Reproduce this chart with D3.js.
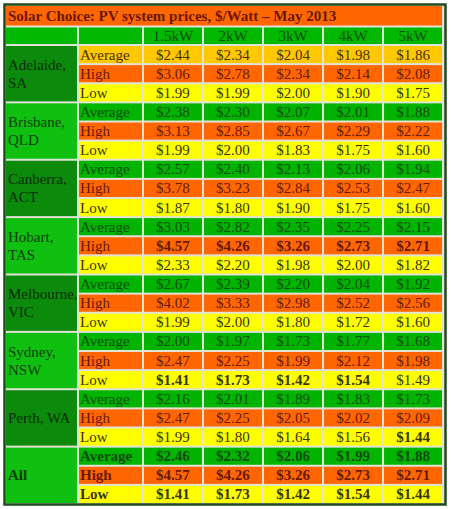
<!DOCTYPE html>
<html>
<head>
<meta charset="utf-8">
<script src="https://cdn.jsdelivr.net/npm/d3@7"></script>
<style>
  body { margin: 0; background: #fff; }
  svg text { font-family: "Liberation Serif", "Times New Roman", serif; }
</style>
</head>
<body>
<div id="chart"></div>
<script>
const width = 451;
const height = 509;

// Table data, $/Watt, May 2013
const title = "Solar Choice: PV system prices, $/Watt \u2013 May 2013";
const cities = ["Adelaide,|SA", "Brisbane,|QLD", "Canberra,|ACT", "Hobart,|TAS",
  "Melbourne,|VIC", "Sydney,|NSW", "Perth, WA", "All"];
const sizes = ["1.5kW", "2kW", "3kW", "4kW", "5kW"];
const stats = ["Average", "High", "Low"];
const average = [
  [2.44, 2.34, 2.04, 1.98, 1.86],
  [2.38, 2.30, 2.07, 2.01, 1.88],
  [2.57, 2.40, 2.13, 2.06, 1.94],
  [3.03, 2.82, 2.35, 2.25, 2.15],
  [2.67, 2.39, 2.20, 2.04, 1.92],
  [2.00, 1.97, 1.73, 1.77, 1.68],
  [2.16, 2.01, 1.89, 1.83, 1.73],
  [2.46, 2.32, 2.06, 1.99, 1.88]
];
const high = [
  [3.06, 2.78, 2.34, 2.14, 2.08],
  [3.13, 2.85, 2.67, 2.29, 2.22],
  [3.78, 3.23, 2.84, 2.53, 2.47],
  [4.57, 4.26, 3.26, 2.73, 2.71],
  [4.02, 3.33, 2.98, 2.52, 2.56],
  [2.47, 2.25, 1.99, 2.12, 1.98],
  [2.47, 2.25, 2.05, 2.02, 2.09],
  [4.57, 4.26, 3.26, 2.73, 2.71]
];
const low = [
  [1.99, 1.99, 2.00, 1.90, 1.75],
  [1.99, 2.00, 1.83, 1.75, 1.60],
  [1.87, 1.80, 1.90, 1.75, 1.60],
  [2.33, 2.20, 1.98, 2.00, 1.82],
  [1.99, 2.00, 1.80, 1.72, 1.60],
  [1.41, 1.73, 1.42, 1.54, 1.49],
  [1.99, 1.80, 1.64, 1.56, 1.44],
  [1.41, 1.73, 1.42, 1.54, 1.44]
];
const series = { Average: average, High: high, Low: low };

// colours
const fills = {
  title: "#ff6600", header: "#00b800",
  Average: "#00b400", AverageFirst: "#ffc800", High: "#ff6600", Low: "#ffff00",
  cityDark: "#0b8a0b", cityLight: "#10c010"
};
const inks = {
  "#ff6600": "#6b1800", "#00b400": "#0b4d0b", "#00b800": "#0b4d0b", "#ffc800": "#4a3300",
  "#ffff00": "#3a3500", "#0b8a0b": "#062e06", "#10c010": "#063e06"
};

const svg = d3.select("#chart").append("svg")
  .attr("width", width)
  .attr("height", height);

// frame
svg.append("rect")
  .attr("x", 4.5).attr("y", 4.5)
  .attr("width", 441).attr("height", 500)
  .attr("fill", "#e2e2d6")
  .attr("stroke", "#1f4a1f")
  .attr("stroke-width", 2.5);

const cityX = 6, cityW = 71;
const labelX = 79, labelW = 63;

const x = d3.scaleBand()
  .domain(sizes)
  .range([144, 442])
  .paddingInner(0.034);

const rowKeys = [];
cities.forEach(c => stats.forEach(s => rowKeys.push(c + "#" + s)));
const y = d3.scaleBand()
  .domain(rowKeys)
  .range([46, 503])
  .paddingInner(0.105);

function cellText(g, tx, ty, txt, fill, anchor, bold) {
  g.append("text")
    .attr("x", tx).attr("y", ty)
    .attr("text-anchor", anchor)
    .attr("font-size", "15px")
    .attr("font-weight", bold ? "bold" : "normal")
    .attr("fill", inks[fill] || "#222")
    .text(txt);
}

// title row
svg.append("rect").attr("x", 6).attr("y", 6).attr("width", 436).attr("height", 19.5).attr("fill", fills.title);
cellText(svg, 8, 21, title, fills.title, "start", true);

// header row
const headerY = 27.5, headerH = 16.5;
svg.append("rect").attr("x", cityX).attr("y", headerY).attr("width", cityW).attr("height", headerH).attr("fill", fills.header);
svg.append("rect").attr("x", labelX).attr("y", headerY).attr("width", labelW).attr("height", headerH).attr("fill", fills.header);
sizes.forEach(s => {
  svg.append("rect").attr("x", x(s)).attr("y", headerY).attr("width", x.bandwidth()).attr("height", headerH).attr("fill", fills.header);
  cellText(svg, x(s) + x.bandwidth() / 2, headerY + headerH / 2 + 5, s, fills.header, "middle", false);
});

// extremes across the cities (All row excluded) get bold type
const nCity = cities.length - 1;
const maxHigh = sizes.map((s, j) => d3.max(high.slice(0, nCity), r => r[j]));
const minLow = sizes.map((s, j) => d3.min(low.slice(0, nCity), r => r[j]));

cities.forEach((c, ci) => {
  const isAll = ci === cities.length - 1;
  const top = y(c + "#Average");
  const bottom = y(c + "#Low") + y.bandwidth();
  const cFill = ci % 2 === 0 ? fills.cityDark : fills.cityLight;
  svg.append("rect").attr("x", cityX).attr("y", top).attr("width", cityW).attr("height", bottom - top).attr("fill", cFill);
  const lines = c.split("|");
  const mid = (top + bottom) / 2;
  lines.forEach((ln, li) => {
    const off = (li - (lines.length - 1) / 2) * 18;
    cellText(svg, 8, mid + off + 5, ln, cFill, "start", isAll);
  });

  stats.forEach(s => {
    const key = c + "#" + s;
    const fill = (s === "Average" && ci === 0) ? fills.AverageFirst : fills[s];
    const ry = y(key), rh = y.bandwidth();
    svg.append("rect").attr("x", labelX).attr("y", ry).attr("width", labelW).attr("height", rh).attr("fill", fill);
    cellText(svg, labelX + 1, ry + rh / 2 + 5, s, fill, "start", isAll);
    series[s][ci].forEach((v, j) => {
      const sz = sizes[j];
      const bold = isAll || (s === "High" && v === maxHigh[j]) || (s === "Low" && v === minLow[j]);
      svg.append("rect").attr("x", x(sz)).attr("y", ry).attr("width", x.bandwidth()).attr("height", rh).attr("fill", fill);
      cellText(svg, x(sz) + x.bandwidth() / 2, ry + rh / 2 + 5, "$" + v.toFixed(2), fill, "middle", bold);
    });
  });
});
</script>
</body>
</html>
